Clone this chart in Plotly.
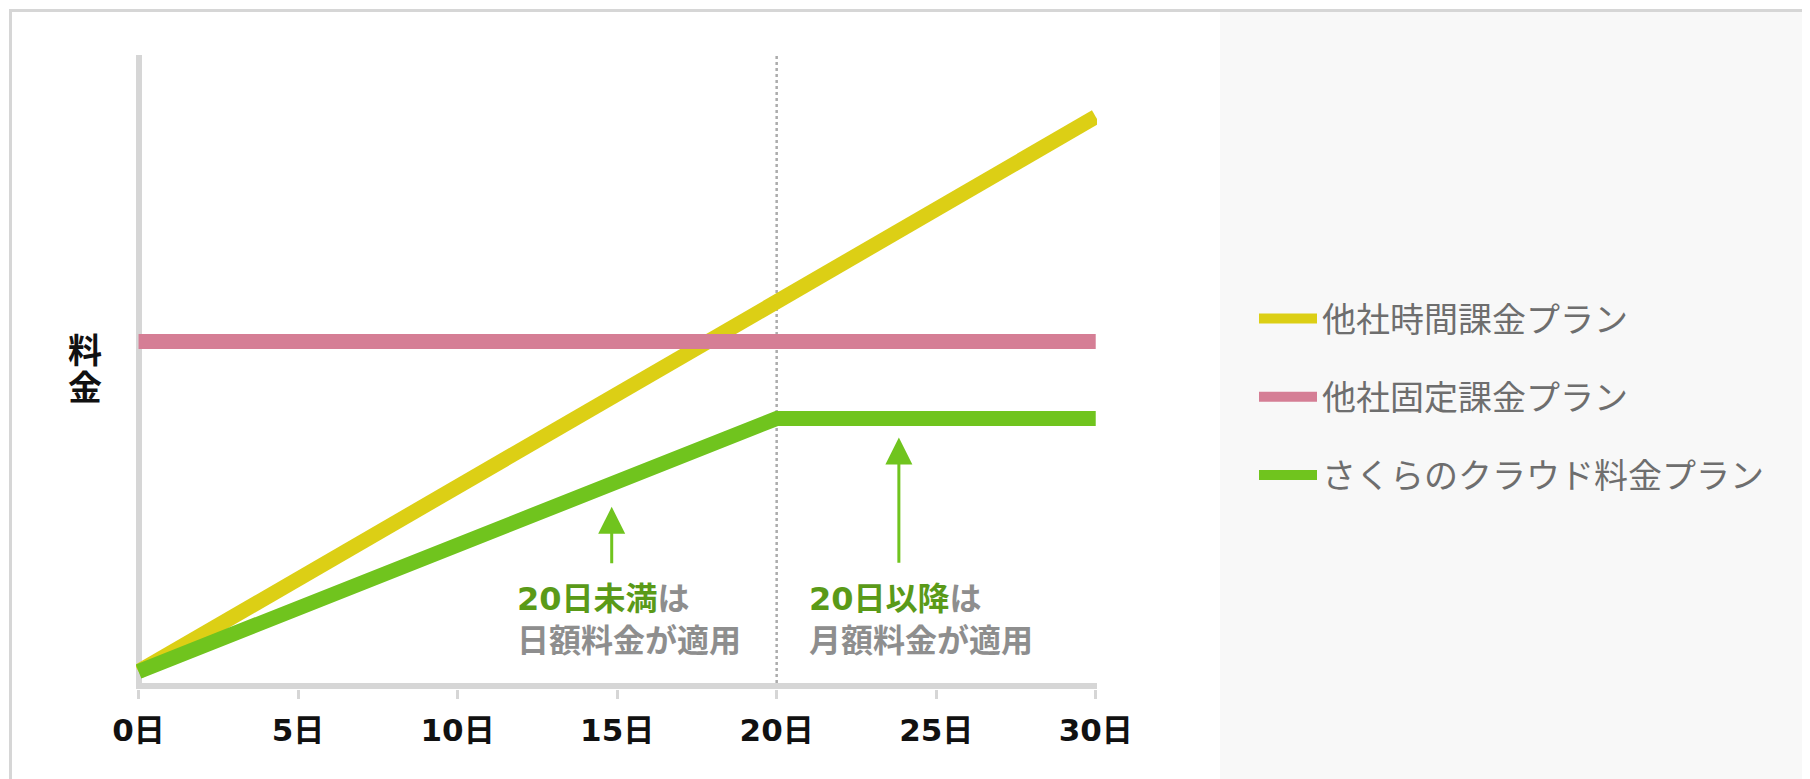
import plotly.graph_objects as go

# --- データ (縦軸は任意単位・目盛りなし) ---
days_hourly = [0, 30]
fee_hourly = [2.3, 90.2]

days_fixed = [0, 30]
fee_fixed = [54.6, 54.6]

days_sakura = [0, 20, 30]
fee_sakura = [2.3, 42.4, 42.4]

tick_days = [0, 5, 10, 15, 20, 25, 30]
tick_labels = ["0日", "5日", "10日", "15日", "20日", "25日", "30日"]

series_names = ["他社時間課金プラン", "他社固定課金プラン", "さくらのクラウド料金プラン"]
series_colors = ["#dccf15", "#d57e95", "#70c41e"]

# --- レイアウト ---
# ページ上の座標で考えて、body の余白 8px 分ずらす
OFF = 8
W, H = 1810, 779
ML, MR, MT, MB = 128, 721, 47, 98
PW = W - ML - MR
PH = H - MT - MB
FONT = "DejaVu Sans, Noto Sans CJK JP"


def px_x(p):
    return (p - OFF - ML) / PW


def px_y(p):
    return (H - MB - (p - OFF)) / PH


fig = go.Figure()

for i, (xs, ys) in enumerate([(days_hourly, fee_hourly),
                              (days_fixed, fee_fixed),
                              (days_sakura, fee_sakura)]):
    fig.add_trace(go.Scatter(
        x=xs, y=ys, mode="lines",
        name=series_names[i],
        legendgroup=f"g{i}",
        line=dict(color=series_colors[i], width=15),
        hoverinfo="skip",
    ))

# 右側のグレーの帯と外枠
fig.add_shape(type="rect", xref="paper", yref="paper",
              x0=px_x(1220), x1=px_x(1850), y0=px_y(820), y1=px_y(12),
              fillcolor="#f8f8f8", line_width=0, layer="below")
fig.add_shape(type="rect", xref="paper", yref="paper",
              x0=px_x(10.5), x1=px_x(1900), y0=px_y(850), y1=px_y(10.5),
              fillcolor="rgba(0,0,0,0)", line=dict(color="#d6d6d6", width=3),
              layer="below")

# 20日の点線
fig.add_shape(type="line", xref="x", yref="paper", x0=20, x1=20, y0=0, y1=1,
              line=dict(color="#acacac", width=2.5, dash="dot"), layer="below")

# 矢印
for xa, tip, tail in [(14.83, 28.4, 19.2), (23.83, 39.4, 19.3)]:
    fig.add_annotation(x=xa, y=tip, ax=xa, ay=tail, xref="x", yref="y",
                       axref="x", ayref="y", text="", showarrow=True,
                       arrowhead=2, arrowsize=1.8, arrowwidth=3,
                       arrowcolor="#70c41e", standoff=0)

# 注記テキスト
fig.add_annotation(x=11.8, y=17.1, xref="x", yref="y", xanchor="left",
                   yanchor="top", align="left", showarrow=False,
                   text="<b><span style='color:#5a9a18'>20日未満</span>は<br>日額料金が適用</b>",
                   font=dict(size=32, color="#8e8e8e", family=FONT))
fig.add_annotation(x=20.95, y=17.1, xref="x", yref="y", xanchor="left",
                   yanchor="top", align="left", showarrow=False,
                   text="<b><span style='color:#5a9a18'>20日以降</span>は<br>月額料金が適用</b>",
                   font=dict(size=32, color="#8e8e8e", family=FONT))

# 縦軸ラベル (一文字ずつ縦に並べる)
for ch, yc in [("料", 351), ("金", 388)]:
    fig.add_annotation(x=px_x(85), y=px_y(yc), xref="paper", yref="paper",
                       xanchor="center", yanchor="middle",
                       text=f"<b>{ch}</b>", showarrow=False,
                       font=dict(size=34, color="#111111", family=FONT))

fig.update_xaxes(
    range=[-0.08, 30.04], tickmode="array", tickvals=tick_days,
    ticktext=tick_labels, ticks="outside", ticklen=9, tickwidth=3,
    tickcolor="#d6d6d6", showgrid=False, showline=False,
    zeroline=True, zerolinecolor="#d6d6d6", zerolinewidth=6,
    tickfont=dict(size=31, color="#111111", family=FONT, weight="bold"),
    ticklabelstandoff=5,
    fixedrange=True,
)
fig.update_yaxes(
    range=[-0.475, 100], showticklabels=False, ticks="", showgrid=False,
    showline=False, zeroline=True, zerolinecolor="#d6d6d6", zerolinewidth=6,
    fixedrange=True,
)

fig.update_layout(
    width=W, height=H,
    margin=dict(l=ML, r=MR, t=MT, b=MB),
    paper_bgcolor="white", plot_bgcolor="rgba(0,0,0,0)",
    showlegend=True,
    legend=dict(x=px_x(1254), y=px_y(397), xanchor="left", yanchor="middle",
                font=dict(size=34, color="#6e6e6e", family=FONT),
                itemwidth=58, tracegroupgap=31, bgcolor="rgba(0,0,0,0)",
                traceorder="grouped"),
    font=dict(family=FONT),
)

fig.write_html("out.html")
